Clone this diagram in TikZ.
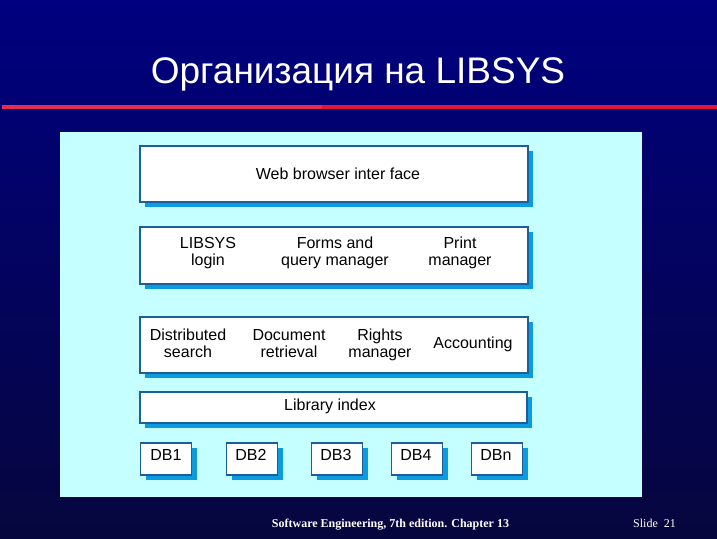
\documentclass[tikz,border=0pt]{standalone}
\usepackage{fontspec}
\setmainfont{Liberation Sans}
\newfontfamily\footfont{Liberation Serif}
\usetikzlibrary{shadows}
\definecolor{bgtop}{HTML}{000080}
\definecolor{bgbot}{HTML}{06063E}
\definecolor{panel}{HTML}{C6FFFF}
\definecolor{edge}{HTML}{1C5E9C}
\definecolor{shade}{HTML}{0A9CDE}
\definecolor{redline}{HTML}{E0143C}
\newcommand{\twolines}[2]{\begin{tabular}[t]{@{}c@{}}#1\\#2\end{tabular}}
\tikzset{
  layerbox/.style={draw=edge, line width=1.6pt, fill=white, inner sep=0pt,
    general shadow={shadow xshift=5pt, shadow yshift=-5pt, fill=shade, draw=none}},
  lbl/.style={font=\fontsize{16}{17}\selectfont, anchor=base, inner sep=0pt, text=black},
  foot/.style={font=\footfont\fontsize{12}{14}\selectfont, text=white, anchor=base, inner sep=0pt}
}
\begin{document}
\begin{tikzpicture}[x=1pt,y=-1pt]
\useasboundingbox (0,0) rectangle (717,538);
\shade[top color=bgtop, bottom color=bgbot] (0,0) rectangle (717,538);
% title
\node[font=\fontsize{37}{42}\selectfont, text=white, anchor=base, inner sep=0pt] (title) at (358,83) {Организация на LIBSYS};
% red rule
\draw[redline, line width=4pt] (2,107) -- (717,107);
\draw[redline!90!white, line width=4.5pt] (2,106.8) -- (322,106.8);
% panel
\fill[panel] (60,132) rectangle (642,497);
% boxes
\node[layerbox, minimum width=388pt, minimum height=56pt] (web) at (334,174) {};
\node[layerbox, minimum width=388pt, minimum height=57pt] (forms) at (334,255.5) {};
\node[layerbox, minimum width=388pt, minimum height=56pt] (serv) at (334,345) {};
\node[layerbox, minimum width=387pt, minimum height=31pt] (index) at (333.5,407.5) {};
\foreach \nm/\xx in {db1/166, db2/252, db3/337, db4/417, dbn/497}{
  \node[layerbox, minimum width=51pt, minimum height=32pt] (\nm) at (\xx,459) {};
}
% labels
\node[lbl] (tweb) at (338,179) {Web browser inter face};
\node[lbl] (tlogin) at (208,248) {\twolines{LIBSYS}{login}};
\node[lbl] (tforms) at (335,248) {\twolines{Forms and}{query manager}};
\node[lbl] (tprint) at (460,248) {\twolines{Print}{manager}};
\node[lbl] (tdist) at (188,340) {\twolines{Distributed}{search}};
\node[lbl] (tdoc) at (289,340) {\twolines{Document}{retrieval}};
\node[lbl] (trights) at (380,340) {\twolines{Rights}{manager}};
\node[lbl] (tacc) at (473,348) {Accounting};
\node[lbl] (tindex) at (330,410) {Library index};
\node[lbl] (tdb1) at (166,460) {DB1};
\node[lbl] (tdb2) at (251,460) {DB2};
\node[lbl] (tdb3) at (336,460) {DB3};
\node[lbl] (tdb4) at (416,460) {DB4};
\node[lbl] (tdbn) at (496,460) {DBn};
% footer
\node[foot, font=\footfont\bfseries\fontsize{12}{14}\selectfont] (ftext) at (390.5,527) {Software Engineering, 7th edition. Chapter 13};
\node[foot, anchor=base west] (fslide) at (633,527) {Slide\ \ 21};
\end{tikzpicture}
\end{document}
